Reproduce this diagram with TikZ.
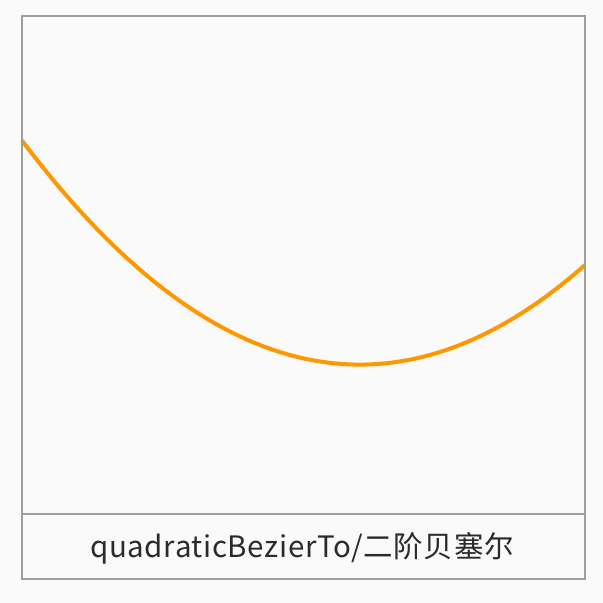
\documentclass[tikz,border=0pt]{standalone}
\usepackage{fontspec}
\usetikzlibrary{calc}
\setmainfont{Noto Sans CJK SC}
\definecolor{bg}{HTML}{FAFAFA}
\definecolor{frame}{HTML}{9E9E9E}
\definecolor{curve}{HTML}{FF9800}
\definecolor{txt}{HTML}{2B2B2B}
\begin{document}
\begin{tikzpicture}[x=1pt,y=-1pt,
  frameline/.style={draw=frame,line width=2pt},
  curveline/.style={draw=curve,line width=4pt},
  caption/.style={text=txt,font=\fontsize{29.5}{32}\selectfont,inner sep=0pt}]
\fill[bg] (0,0) rectangle (603,603);
\useasboundingbox (0,0) rectangle (603,603);
\coordinate (tl) at (21.5,16);
\coordinate (br) at (584.5,579);
\coordinate (dl) at (21.5,514);
\coordinate (dr) at (584.5,514);
\coordinate (p0) at (22,140.5);
\coordinate (c) at (303.5,514);
\coordinate (p2) at (585,265);
\draw[curveline] (p0) .. controls ($(p0)!2/3!(c)$) and ($(p2)!2/3!(c)$) .. (p2);
\draw[frameline] (tl) rectangle (br);
\draw[frameline] (dl) -- (dr);
\node[caption] (cap) at (302,548) {\addfontfeature{LetterSpace=2}quadraticBezierTo/二阶贝塞尔};
\end{tikzpicture}
\end{document}
